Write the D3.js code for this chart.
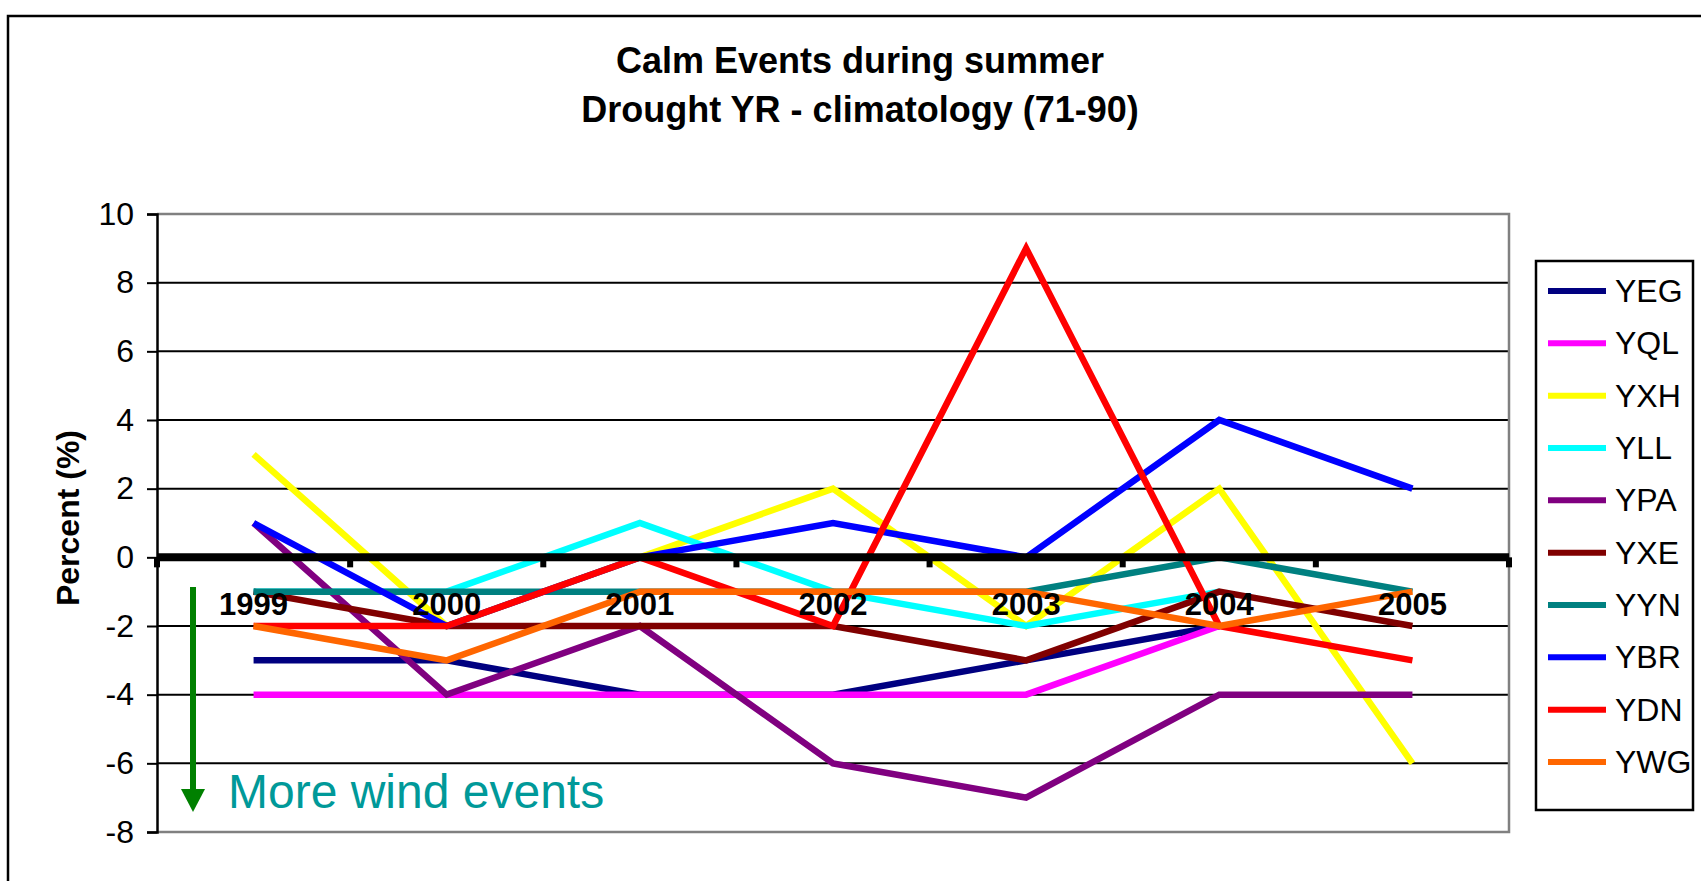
<!DOCTYPE html>
<html>
<head>
<meta charset="utf-8">
<script src="https://cdn.jsdelivr.net/npm/d3@7"></script>
<style>
  body { margin: 0; background: #fff; }
  text { font-family: "Liberation Sans", Arial, sans-serif; }
</style>
</head>
<body>
<div id="chart"></div>
<script>
// values (null = no point)
let years = ["1999", "2000", "2001", "2002", "2003", "2004", "2005"];
let yTicks = [10, 8, 6, 4, 2, 0, -2, -4, -6, -8];
let stations = ["YEG", "YQL", "YXH", "YLL", "YPA", "YXE", "YYN", "YBR", "YDN", "YWG"];
let colors = ["#000080", "#FF00FF", "#FFFF00", "#00FFFF", "#800080", "#800000", "#008080", "#0000FF", "#FF0000", "#FF6600"];

let yeg = [-3, -3, -4, -4, -3, -2, null];
let yql = [-4, -4, -4, -4, -4, -2, null];
let yxh = [3, -2, 0, 2, -2, 2, -6];
let yll = [-1, -1, 1, -1, -2, -1, null];
let ypa = [1, -4, -2, -6, -7, -4, -4];
let yxe = [-1, -2, -2, -2, -3, -1, -2];
let yyn = [-1, -1, -1, -1, -1, 0, -1];
let ybr = [1, -2, 0, 1, 0, 4, 2];
let ydn = [-2, -2, 0, -2, 9, -2, -3];
let ywg = [-2, -3, -1, -1, -1, -2, -1];

let seriesValues = [yeg, yql, yxh, yll, ypa, yxe, yyn, ybr, ydn, ywg];

let width = 1701,
    height = 881;

let plot = {
    left: 157,
    right: 1509,
    top: 214,
    bottom: 832
}

let series = stations.map(function(name, i) {
    return {
        name: name,
        color: colors[i],
        values: seriesValues[i].map(function(v, j) { return {year: years[j], value: v}; })
    }
})

let xScale = d3.scaleBand()
    .domain(years)
    .range([plot.left, plot.right])

let yScale = d3.scaleLinear()
    .domain([-8, 10])
    .range([plot.bottom, plot.top])

let svg = d3.select("#chart")
    .append("svg")
    .attr("width", width)
    .attr("height", height)

// outer chart frame (runs off the right and bottom edges)
svg.append("rect")
    .attr("x", 8)
    .attr("y", 16)
    .attr("width", 1800)
    .attr("height", 1000)
    .attr("fill", "none")
    .attr("stroke", "black")
    .attr("stroke-width", 2.5)

// title
svg.append("text")
    .attr("x", 860)
    .attr("y", 73)
    .attr("text-anchor", "middle")
    .attr("font-size", 36)
    .attr("font-weight", "bold")
    .text("Calm Events during summer")

svg.append("text")
    .attr("x", 860)
    .attr("y", 122)
    .attr("text-anchor", "middle")
    .attr("font-size", 36)
    .attr("font-weight", "bold")
    .text("Drought YR - climatology (71-90)")

// gridlines
svg.selectAll(".grid")
    .data(yTicks.filter(function(t) { return t != 10 && t != -8 && t != 0; }))
    .enter().append("line")
    .attr("class", "grid")
    .attr("x1", plot.left)
    .attr("x2", plot.right)
    .attr("y1", function(d) { return yScale(d); })
    .attr("y2", function(d) { return yScale(d); })
    .attr("stroke", "black")
    .attr("stroke-width", 2)

// plot area border: grey top, right and bottom
svg.append("path")
    .attr("d", "M" + plot.left + "," + yScale(10) + "H" + plot.right + "V" + yScale(-8) + "H" + plot.left)
    .attr("fill", "none")
    .attr("stroke", "#808080")
    .attr("stroke-width", 2.5)

// y axis
let yAxis = svg.append("g")
    .attr("transform", "translate(" + plot.left + ",0)")
    .call(d3.axisLeft(yScale).tickValues(yTicks).tickSize(10).tickPadding(13).tickFormat(d3.format("d")))

yAxis.select(".domain").attr("stroke", "black").attr("stroke-width", 2.5)
yAxis.selectAll(".tick line").attr("stroke", "black").attr("stroke-width", 2)
yAxis.selectAll(".tick text")
    .attr("font-size", 32)
    .attr("font-family", "Liberation Sans, Arial, sans-serif")
    .attr("fill", "black")
    .text(function(d) { return d < 0 ? "-" + Math.abs(d) : d; })

// y title
svg.append("text")
    .attr("transform", "translate(79,518) rotate(-90)")
    .attr("text-anchor", "middle")
    .attr("font-size", 32)
    .attr("font-weight", "bold")
    .text("Percent (%)")

// series lines
let line = d3.line()
    .defined(function(d) { return d.value != null; })
    .x(function(d) { return xScale(d.year) + xScale.bandwidth() / 2; })
    .y(function(d) { return yScale(d.value); })

svg.selectAll(".series")
    .data(series)
    .enter().append("path")
    .attr("class", "series")
    .attr("d", function(d) { return line(d.values); })
    .attr("fill", "none")
    .attr("stroke", function(d) { return d.color; })
    .attr("stroke-width", 6.5)
    .attr("stroke-linejoin", "miter")

// category axis at zero
svg.append("line")
    .attr("x1", plot.left)
    .attr("x2", plot.right)
    .attr("y1", yScale(0))
    .attr("y2", yScale(0))
    .attr("stroke", "black")
    .attr("stroke-width", 8)

let boundaries = years.map(function(y) { return xScale(y); }).concat([plot.right]);

svg.selectAll(".xtick")
    .data(boundaries)
    .enter().append("rect")
    .attr("class", "xtick")
    .attr("x", function(d) { return d - 3; })
    .attr("y", yScale(0))
    .attr("width", 6)
    .attr("height", 10)
    .attr("fill", "black")

svg.selectAll(".xlabel")
    .data(years)
    .enter().append("text")
    .attr("class", "xlabel")
    .attr("x", function(d) { return xScale(d) + xScale.bandwidth() / 2; })
    .attr("y", 615)
    .attr("text-anchor", "middle")
    .attr("font-size", 31)
    .attr("font-weight", "bold")
    .text(function(d) { return d; })

// annotation arrow
svg.append("line")
    .attr("x1", 193)
    .attr("x2", 193)
    .attr("y1", 587)
    .attr("y2", 792)
    .attr("stroke", "#008000")
    .attr("stroke-width", 6)

svg.append("path")
    .attr("d", "M181,789 L205,789 L193,812 Z")
    .attr("fill", "#008000")

svg.append("text")
    .attr("x", 228)
    .attr("y", 808)
    .attr("font-size", 48)
    .attr("fill", "#009999")
    .text("More wind events")

// legend
let legend = svg.append("g")

legend.append("rect")
    .attr("x", 1536)
    .attr("y", 261)
    .attr("width", 157)
    .attr("height", 549)
    .attr("fill", "white")
    .attr("stroke", "black")
    .attr("stroke-width", 2.5)

let legendRow = d3.scaleLinear()
    .domain([0, stations.length - 1])
    .range([302, 773])

legend.selectAll(".swatch")
    .data(series)
    .enter().append("line")
    .attr("class", "swatch")
    .attr("x1", 1548)
    .attr("x2", 1606)
    .attr("y1", function(d, i) { return legendRow(i) - 11; })
    .attr("y2", function(d, i) { return legendRow(i) - 11; })
    .attr("stroke", function(d) { return d.color; })
    .attr("stroke-width", 6)

legend.selectAll(".ltext")
    .data(series)
    .enter().append("text")
    .attr("class", "ltext")
    .attr("x", 1615)
    .attr("y", function(d, i) { return legendRow(i); })
    .attr("font-size", 32)
    .text(function(d) { return d.name; })
</script>
</body>
</html>
